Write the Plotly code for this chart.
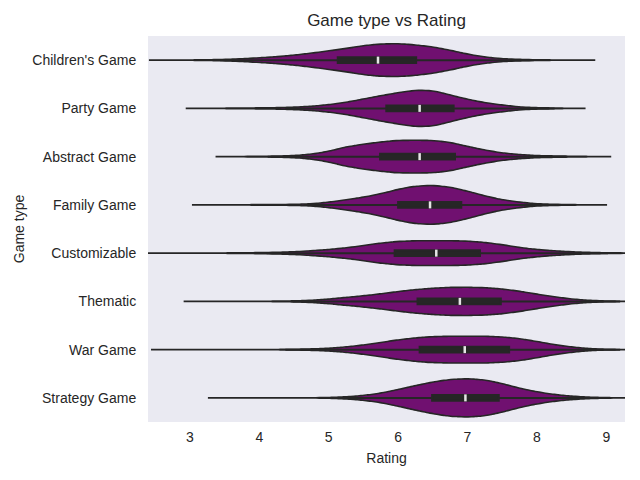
import numpy as np
import plotly.graph_objects as go

GAME_TYPES = ["Children's Game", "Party Game", "Abstract Game", "Family Game",
              "Customizable", "Thematic", "War Game", "Strategy Game"]

# rating bins (step 0.25) and game counts per bin
RATING_BINS = [2.5, 2.75, 3.0, 3.25, 3.5, 3.75, 4.0, 4.25, 4.5, 4.75, 5.0, 5.25, 5.5, 5.75,
               6.0, 6.25, 6.5, 6.75, 7.0, 7.25, 7.5, 7.75, 8.0, 8.25, 8.5, 8.75, 9.0, 9.25]

CHILDRENS = [0, 0, 5, 10, 20, 40, 70, 100, 150, 210, 280, 350, 440, 490,
             500, 460, 400, 300, 180, 90, 40, 20, 10, 5, 0, 0, 0, 0]
PARTY = [0, 0, 0, 3, 5, 10, 15, 20, 35, 60, 110, 180, 280, 380,
         470, 550, 540, 400, 270, 170, 100, 40, 20, 10, 0, 0, 0, 0]
ABSTRACT = [0, 0, 0, 0, 0, 5, 10, 15, 30, 70, 160, 300, 380, 450,
            500, 500, 500, 440, 310, 200, 110, 60, 30, 20, 10, 5, 0, 0]
FAMILY = [0, 0, 0, 0, 3, 5, 7, 10, 15, 30, 80, 150, 230, 330,
          470, 570, 590, 540, 410, 270, 150, 80, 30, 15, 7, 0, 0, 0]
CUSTOMIZABLE = [2, 2, 3, 4, 5, 10, 15, 25, 40, 70, 110, 160, 230, 310,
                360, 380, 380, 380, 370, 330, 260, 170, 110, 70, 40, 20, 10, 5]
THEMATIC = [0, 0, 0, 3, 3, 3, 3, 7, 15, 30, 70, 120, 170, 230,
            300, 360, 400, 430, 430, 420, 380, 310, 220, 140, 70, 30, 10, 0]
WAR = [0, 3, 3, 3, 3, 3, 3, 5, 10, 20, 40, 80, 140, 220,
       300, 360, 400, 410, 410, 410, 390, 340, 250, 150, 80, 30, 10, 0]
STRATEGY = [0, 0, 0, 0, 0, 3, 3, 3, 3, 3, 10, 30, 70, 140,
            250, 370, 480, 560, 580, 550, 430, 290, 180, 100, 50, 20, 7, 0]
COUNTS = [CHILDRENS, PARTY, ABSTRACT, FAMILY, CUSTOMIZABLE, THEMATIC, WAR, STRATEGY]

# lowest / highest rating in each type
RATING_MIN = [2.72, 3.28, 3.68, 3.34, 2.2, 3.22, 2.78, 3.57]
RATING_MAX = [8.53, 8.39, 8.76, 8.70, 9.4, 9.2, 9.2, 9.2]

# box statistics
Q1 = [5.13, 5.83, 5.74, 6.00, 5.95, 6.28, 6.31, 6.49]
MEDIAN = [5.71, 6.31, 6.31, 6.46, 6.55, 6.89, 6.96, 6.97]
Q3 = [6.26, 6.80, 6.82, 6.91, 7.18, 7.48, 7.60, 7.45]

FILL = "#701070"
LINE = "#262626"
FONT = "Liberation Sans, Arial, sans-serif"

fig = go.Figure()

peak = max(max(c) for c in COUNTS)
for i, name in enumerate(GAME_TYPES):
    vals = np.concatenate([np.repeat(RATING_BINS, COUNTS[i]), [RATING_MIN[i], RATING_MAX[i]]])
    fig.add_trace(go.Violin(
        x=vals, y=[name] * len(vals), orientation="h", name=name,
        width=0.8 * max(COUNTS[i]) / peak,
        bandwidth=0.15, spanmode="soft", points=False,
        fillcolor=FILL, line=dict(color=LINE, width=1.6),
        hoverinfo="skip",
    ))

iqr = np.array(Q3) - np.array(Q1)
lower = np.maximum(np.array(RATING_MIN), np.array(Q1) - 1.5 * iqr)
upper = np.minimum(np.array(RATING_MAX), np.array(Q3) + 1.5 * iqr)

fig.add_trace(go.Box(
    y=GAME_TYPES, q1=Q1, median=MEDIAN, q3=Q3,
    lowerfence=lower, upperfence=upper,
    orientation="h", width=0.12, whiskerwidth=0, boxpoints=False,
    fillcolor=LINE, line=dict(color=LINE, width=2), hoverinfo="skip",
))

fig.add_trace(go.Scatter(
    x=MEDIAN, y=GAME_TYPES, mode="markers",
    marker=dict(symbol="line-ns", size=5, line=dict(width=2.5, color="#e6e6e6")),
    hoverinfo="skip",
))

fig.update_layout(
    width=640, height=480,
    title=dict(text="Game type vs Rating", x=378.5 / 640, xanchor="center",
               y=0.975, yanchor="middle", font=dict(family=FONT, size=17, color=LINE)),
    font=dict(family=FONT, size=14, color=LINE),
    paper_bgcolor="white", plot_bgcolor="#EAEAF2",
    margin=dict(l=140, r=23, t=28, b=66),
    showlegend=False,
    violinmode="overlay", boxmode="overlay",
    xaxis=dict(range=[2.395, 9.27], tickvals=[3, 4, 5, 6, 7, 8, 9],
               showgrid=False, zeroline=False, showline=False, automargin=False,
               ticks="outside", ticklen=2, tickcolor="white",
               title=dict(text="Rating", standoff=9, font=dict(size=14))),
    yaxis=dict(type="category", categoryorder="array", categoryarray=GAME_TYPES,
               range=[7.5, -0.5], showgrid=False, zeroline=False, showline=False,
               automargin=False,
               ticks="outside", ticklen=8, tickcolor="white",
               title=dict(text="Game type", standoff=4, font=dict(size=14))),
)

fig.write_html("out.html")
